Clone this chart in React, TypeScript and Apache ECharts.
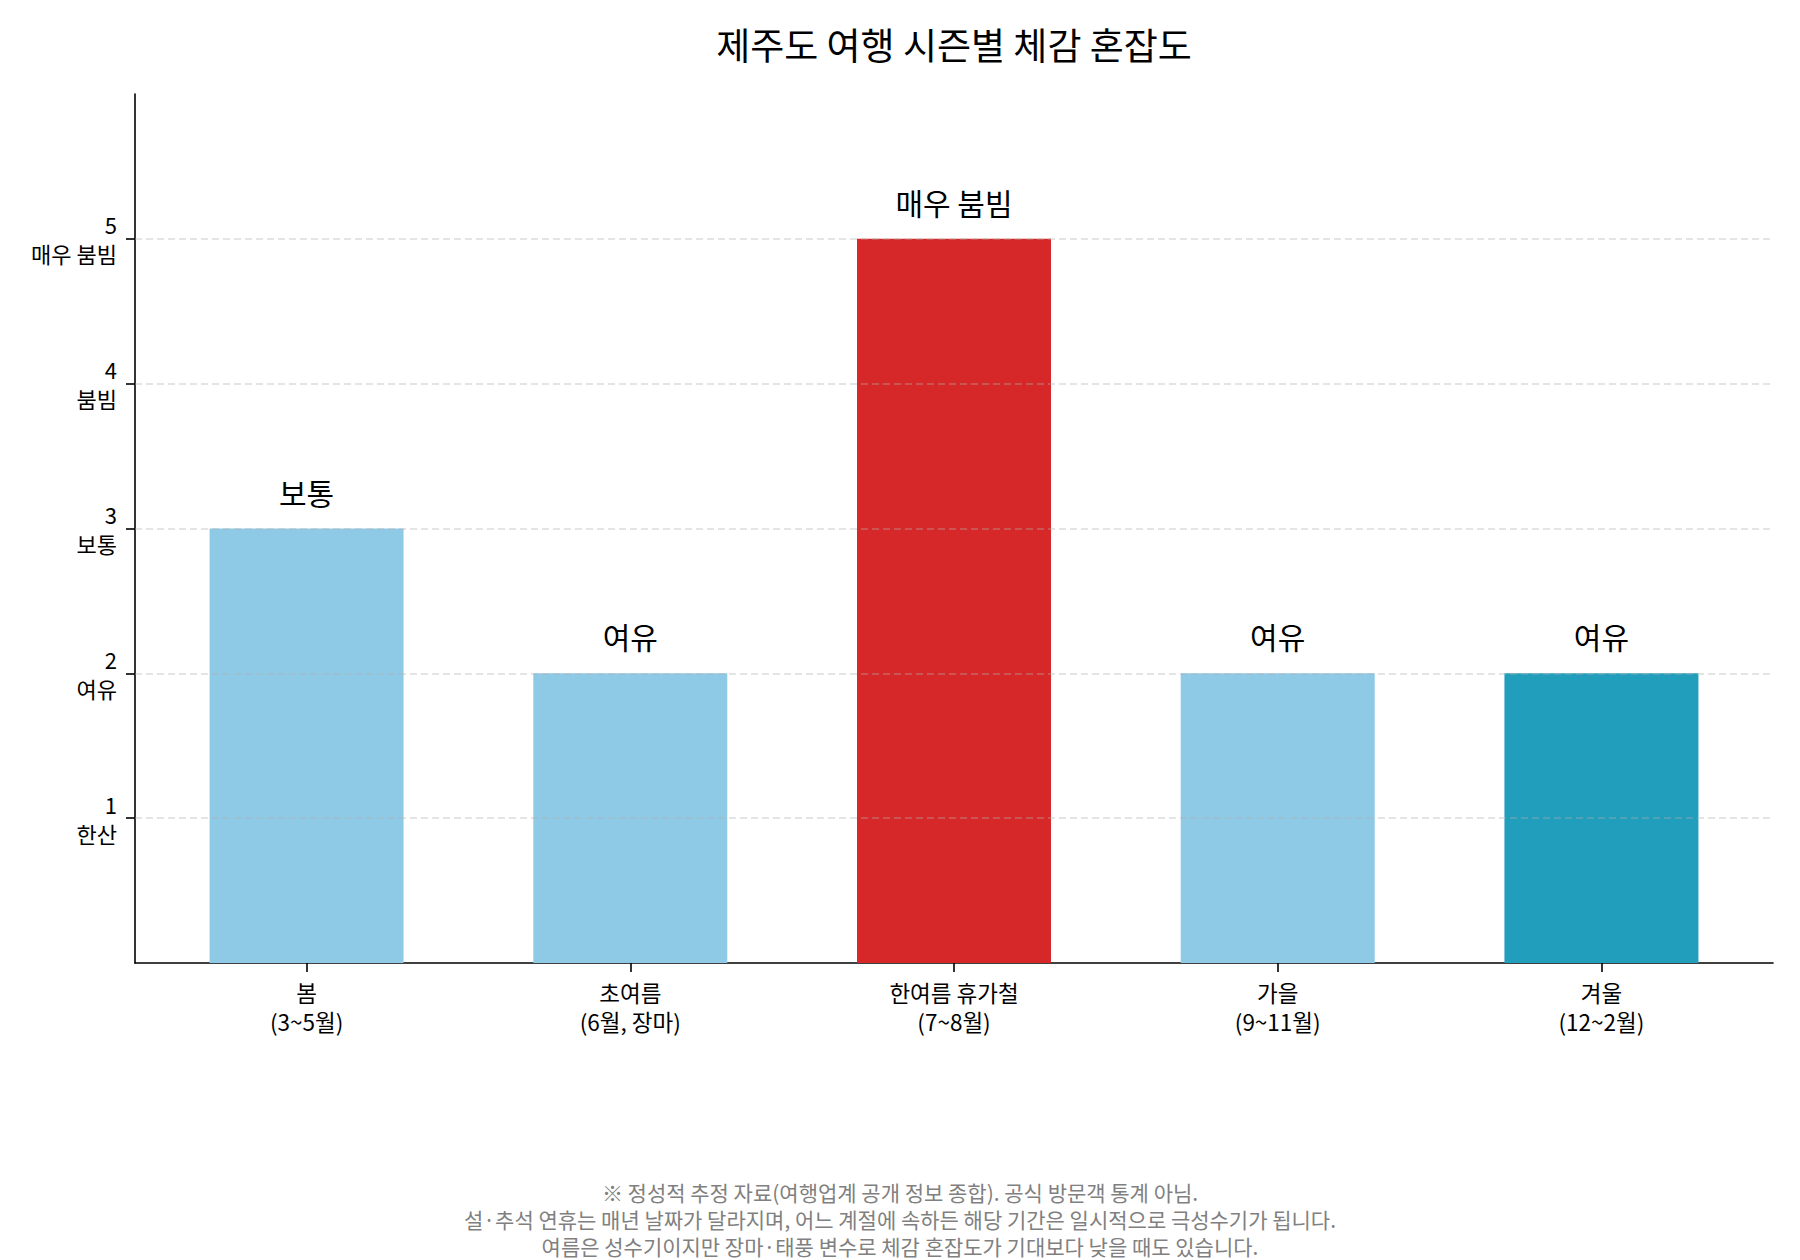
import { useEffect, useRef } from 'react';
import * as echarts from 'echarts';

const seasons = ['봄\n(3~5월)', '초여름\n(6월, 장마)', '한여름 휴가철\n(7~8월)', '가을\n(9~11월)', '겨울\n(12~2월)'];
const crowdLevels = [3, 2, 5, 2, 2];
const barColors = ['#8ecae6', '#8ecae6', '#d62828', '#8ecae6', '#219ebc'];
const levelNames = ['', '한산', '여유', '보통', '붐빔', '매우 붐빔'];
const yTicks = [1, 2, 3, 4, 5];
const xTicks = [0, 1, 2, 3, 4];

const title = '제주도 여행 시즌별 체감 혼잡도';
const footnote = [
  '※ 정성적 추정 자료(여행업계 공개 정보 종합). 공식 방문객 통계 아님.',
  '설·추석 연휴는 매년 날짜가 달라지며, 어느 계절에 속하든 해당 기간은 일시적으로 극성수기가 됩니다.',
  '여름은 성수기이지만 장마·태풍 변수로 체감 혼잡도가 기대보다 낮을 때도 있습니다.',
];

const FONT = "'Noto Sans CJK KR', 'Noto Sans', sans-serif";

export default function App() {
  const chartDiv = useRef<HTMLDivElement>(null);

  useEffect(() => {
    document.body.style.margin = '0';
    if (!chartDiv.current) return;
    const chart = echarts.init(chartDiv.current, undefined, { renderer: 'svg' });

    const option: echarts.EChartsOption = {
      animation: false,
      backgroundColor: '#ffffff',
      textStyle: { fontFamily: FONT },
      grid: { left: 135, right: 27, top: 94, bottom: 297, containLabel: false },
      graphic: [
        {
          type: 'text',
          x: 954,
          y: 44,
          style: {
            text: title,
            fontFamily: FONT,
            fontSize: 37,
            fontWeight: 400,
            fill: '#000',
            align: 'center',
            verticalAlign: 'middle',
          },
        },
        {
          type: 'text',
          x: 900,
          y: 1219,
          style: {
            text: footnote.join('\n'),
            fontFamily: FONT,
            fontSize: 21,
            lineHeight: 27,
            fill: '#808080',
            align: 'center',
            verticalAlign: 'middle',
          },
        },
      ],
      xAxis: {
        type: 'value',
        min: -0.53,
        max: 4.53,
        splitLine: { show: false },
        axisLine: { show: true, onZero: false, lineStyle: { color: '#000', width: 1.6 } },
        axisTick: {
          show: true,
          length: 9,
          customValues: xTicks,
          lineStyle: { color: '#000', width: 1.6 },
        },
        axisLabel: {
          customValues: xTicks,
          margin: 14,
          fontSize: 22.5,
          lineHeight: 29,
          color: '#000',
          fontFamily: FONT,
          align: 'center',
          formatter: (v: number) => seasons[Math.round(v)] ?? '',
        },
      },
      yAxis: {
        type: 'value',
        min: 0,
        max: 6,
        interval: 1,
        splitLine: { show: false },
        axisLine: { show: true, onZero: false, lineStyle: { color: '#000', width: 1.6 } },
        axisTick: {
          show: true,
          length: 9,
          customValues: yTicks,
          lineStyle: { color: '#000', width: 1.6 },
        },
        axisLabel: {
          customValues: yTicks,
          margin: 18,
          fontSize: 22,
          lineHeight: 29,
          color: '#000',
          fontFamily: FONT,
          align: 'right',
          formatter: (v: number) => (yTicks.includes(v) ? `${v}\n${levelNames[v]}` : ''),
        },
      },
      series: [
        {
          type: 'bar',
          barWidth: 194,
          data: crowdLevels.map((v, i) => ({
            value: [i, v],
            itemStyle: { color: barColors[i] },
          })),
          label: {
            show: true,
            position: 'top',
            distance: 22,
            fontSize: 30,
            lineHeight: 30,
            color: '#000',
            fontFamily: FONT,
            formatter: (p: any) => levelNames[p.value[1]],
          },
          markLine: {
            silent: true,
            symbol: 'none',
            label: { show: false },
            lineStyle: { color: 'rgba(176,176,176,0.45)', type: [7, 4], width: 1.6 },
            data: yTicks.map((t) => ({ yAxis: t })),
          },
        },
      ],
    };

    chart.setOption(option);
    return () => {
      chart.dispose();
    };
  }, []);

  return <div ref={chartDiv} style={{ width: 1800, height: 1260 }} />;
}
